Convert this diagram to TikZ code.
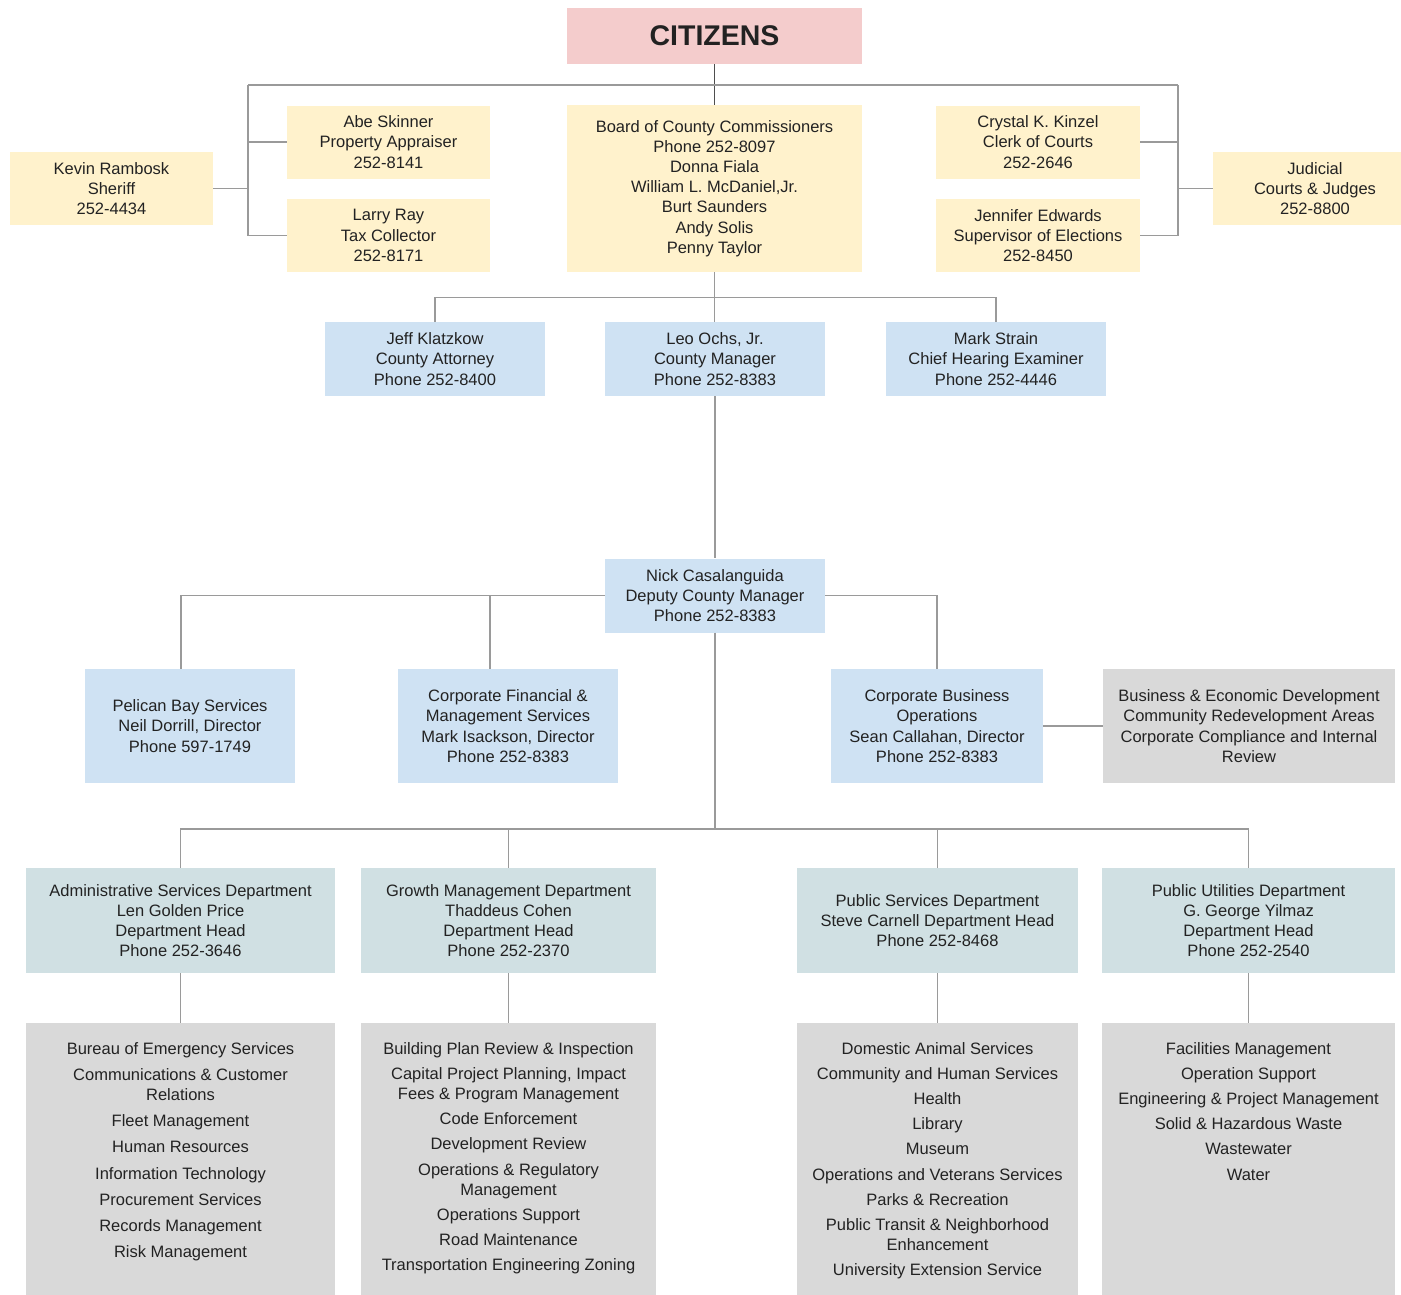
\documentclass[tikz,border=0pt]{standalone}
\usepackage{fontspec}
\setmainfont{Liberation Sans}
\definecolor{cpink}{HTML}{F4CCCC}
\definecolor{cyellow}{HTML}{FFF2CC}
\definecolor{cblue}{HTML}{CFE2F3}
\definecolor{cteal}{HTML}{D0E0E3}
\definecolor{cgray}{HTML}{D9D9D9}
\definecolor{cline}{HTML}{9A9A9A}
\definecolor{ctext}{HTML}{222222}
\newcommand{\deptlist}[1]{\parbox[c][252pt][t]{270pt}{\centering #1}}

\begin{document}
\begin{tikzpicture}[x=1pt,y=-1pt,
	box/.style={inner sep=0pt,align=center,text=ctext,font=\fontsize{16.5}{20.2}\selectfont},
	office/.style={box,fill=cyellow,minimum width=203pt,minimum height=73pt},
	manager/.style={box,fill=cblue,minimum width=220pt,minimum height=74pt},
	division/.style={box,fill=cblue,minimum height=114pt},
	dept/.style={box,fill=cteal,minimum height=105pt},
	services/.style={box,fill=cgray,minimum height=290pt,anchor=north},
	link/.style={draw=cline,line width=1.2pt}]
		\clip (0,0) rectangle (1401,1294);
		\fill[white] (0,0) rectangle (1401,1294);

		% Citizens
		\node[box,fill=cpink,minimum width=295pt,minimum height=56pt,font=\fontsize{28.5}{30}\selectfont\bfseries] (citizens) at (714.5,36) {CITIZENS};

		% Elected offices
		\node[office] (sheriff) at (111.5,188.5) {Kevin Rambosk\\Sheriff\\252-4434};
		\node[office] (appraiser) at (388.5,142) {Abe Skinner\\Property Appraiser\\252-8141};
		\node[office] (taxcoll) at (388.5,235.5) {Larry Ray\\Tax Collector\\252-8171};
		\node[office,minimum width=295pt,minimum height=167pt] (board) at (714.5,188.5) {Board of County Commissioners\\Phone 252-8097\\Donna Fiala\\William L. McDaniel,Jr.\\Burt Saunders\\Andy Solis\\Penny Taylor};
		\node[office,minimum width=204pt] (clerk) at (1038,142) {Crystal K. Kinzel\\Clerk of Courts\\252-2646};
		\node[office,minimum width=204pt] (elections) at (1038,235.5) {Jennifer Edwards\\Supervisor of Elections\\252-8450};
		\node[office,minimum width=204pt] (judicial) at (1315,188.5) {Judicial\\Courts \& Judges\\252-8800};

		% Appointed
		\node[manager] (attorney) at (435,359) {Jeff Klatzkow\\County Attorney\\Phone 252-8400};
		\node[manager] (countymgr) at (715,359) {Leo Ochs, Jr.\\County Manager\\Phone 252-8383};
		\node[manager] (examiner) at (996,359) {Mark Strain\\Chief Hearing Examiner\\Phone 252-4446};
		\node[manager] (deputy) at (715,595.5) {Nick Casalanguida\\Deputy County Manager\\Phone 252-8383};

		% Divisions
		\node[division,minimum width=210pt] (pelican) at (190,726) {Pelican Bay Services\\Neil Dorrill, Director\\Phone 597-1749};
		\node[division,minimum width=220pt] (finance) at (508,726) {Corporate Financial \&\\Management Services\\Mark Isackson, Director\\Phone 252-8383};
		\node[division,minimum width=212pt] (business) at (937,726) {Corporate Business\\Operations\\Sean Callahan, Director\\Phone 252-8383};
		\node[division,fill=cgray,minimum width=292pt] (econdev) at (1249,726) {Business \& Economic Development\\Community Redevelopment Areas\\Corporate Compliance and Internal\\Review};

		% Departments
		\node[dept,minimum width=309pt] (admin) at (180.5,920.5) {Administrative Services Department\\Len Golden Price\\Department Head\\Phone 252-3646};
		\node[dept,minimum width=295pt] (growth) at (508.5,920.5) {Growth Management Department\\Thaddeus Cohen\\Department Head\\Phone 252-2370};
		\node[dept,minimum width=281pt] (pubserv) at (937.5,920.5) {Public Services Department\\Steve Carnell Department Head\\Phone 252-8468};
		\node[dept,minimum width=293pt] (pubutil) at (1248.5,920.5) {Public Utilities Department\\G. George Yilmaz\\Department Head\\Phone 252-2540};

		% Services of each department
		\node[services,minimum width=309pt] (admin-svc) at (180.5,1023) {\deptlist{Bureau of Emergency Services\\[6pt] Communications \& Customer\\Relations\\[6pt] Fleet Management\\[6pt] Human Resources\\[6pt] Information Technology\\[6pt] Procurement Services\\[6pt] Records Management\\[6pt] Risk Management}};
		\node[services,minimum width=295pt] (growth-svc) at (508.5,1023) {\deptlist{Building Plan Review \& Inspection\\[5pt] Capital Project Planning, Impact\\Fees \& Program Management\\[5pt] Code Enforcement\\[5pt] Development Review\\[5pt] Operations \& Regulatory\\Management\\[5pt] Operations Support\\[5pt] Road Maintenance\\[5pt] Transportation Engineering Zoning}};
		\node[services,minimum width=281pt] (pubserv-svc) at (937.5,1023) {\deptlist{Domestic Animal Services\\[5pt] Community and Human Services\\[5pt] Health\\[5pt] Library\\[5pt] Museum\\[5pt] Operations and Veterans Services\\[5pt] Parks \& Recreation\\[5pt] Public Transit \& Neighborhood\\Enhancement\\[5pt] University Extension Service}};
		\node[services,minimum width=293pt] (pubutil-svc) at (1248.5,1023) {\deptlist{Facilities Management\\[5pt] Operation Support\\[5pt] Engineering \& Project Management\\[5pt] Solid \& Hazardous Waste\\[5pt] Wastewater\\[5pt] Water}};

		% Top links
		\coordinate (lbar) at (248,85);
		\coordinate (rbar) at (1178,85);
		\draw[link,draw=ctext!80] (citizens.south) -- (board.north);
		\draw[link] (lbar) -- (rbar);
		\draw[link] (lbar) |- (taxcoll.west);
		\draw[link] (appraiser.west) -- (appraiser.west -| lbar);
		\draw[link] (sheriff.east) -- (sheriff.east -| lbar);
		\draw[link] (rbar) |- (elections.east);
		\draw[link] (clerk.east) -- (clerk.east -| rbar);
		\draw[link] (judicial.west) -- (judicial.west -| rbar);

		% Appointed links
		\draw[link] (board.south) -- (board.south |- countymgr.north);
		\draw[link] (attorney.north) -- ++(0,-24) -| (examiner.north);
		\draw[link] (countymgr.south) -- (deputy.north);

		% Deputy links
		\draw[link] (deputy.west) -| ([xshift=-9pt]pelican.north);
		\draw[link] ([xshift=-18pt]finance.north) -- ([xshift=-18pt]finance.north |- deputy.west);
		\draw[link] (deputy.east) -| (business.north);
		\draw[link] (business.east) -- (econdev.west);

		% Department links
		\coordinate (deptbus) at (715,829);
		\draw[link] (deputy.south) -- (deptbus);
		\foreach \d in {admin,growth,pubserv,pubutil}{
			\draw[link] (deptbus) -| (\d.north);
			\draw[link] (\d.south) -- (\d-svc.north);
		}

\end{tikzpicture}
\end{document}
